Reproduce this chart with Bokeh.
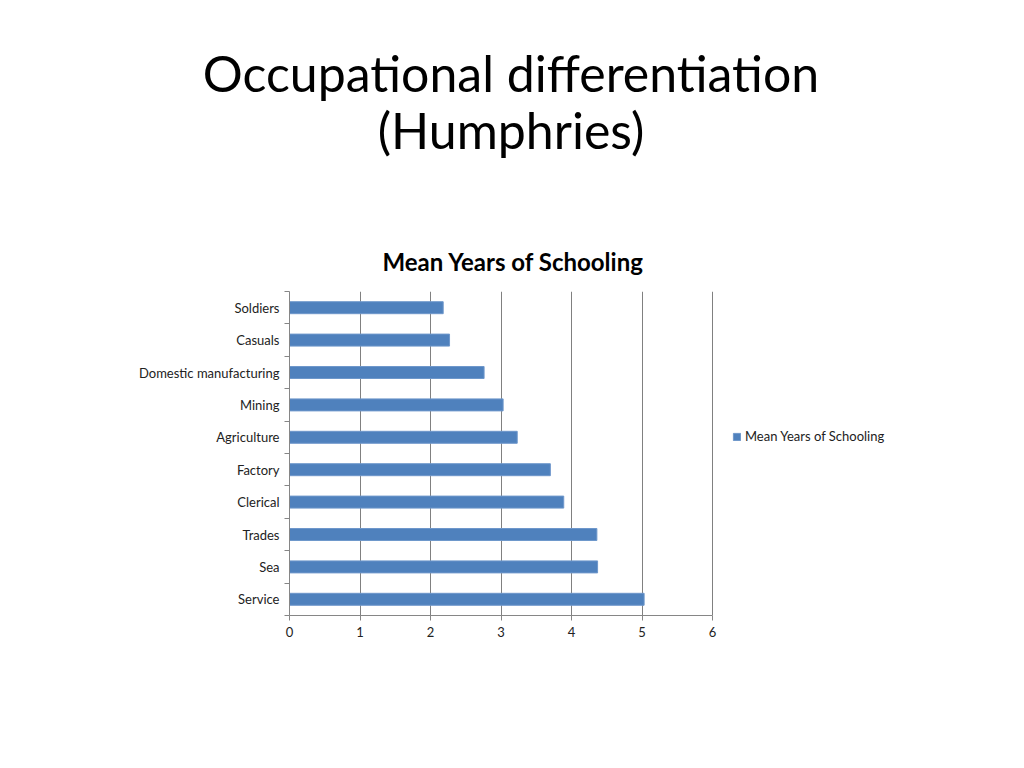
from bokeh.plotting import figure
from bokeh.models import (Range1d, LinearAxis, FixedTicker, Div,
                          Legend, LegendItem, ColumnDataSource)
from bokeh.layouts import column
from bokeh.embed import file_html
from bokeh.resources import INLINE

# ---- data ----
categories = ["Service", "Sea", "Trades", "Clerical", "Factory",
              "Agriculture", "Mining", "Domestic manufacturing", "Casuals", "Soldiers"]
mean_years = [5.03, 4.37, 4.36, 3.89, 3.70, 3.23, 3.03, 2.76, 2.27, 2.18]
x_ticks = [0, 1, 2, 3, 4, 5, 6]
main_title = ["Occupational differentiation", "(Humphries)"]
chart_title = "Mean Years of Schooling"
series_name = "Mean Years of Schooling"

FONT = "Lato"
BAR = "#4F81BD"
GRID = "#808080"
AXIS = "#868686"

n = len(categories)
centers = [i + 0.5 for i in range(n)]
bounds = list(range(n + 1))
src = ColumnDataSource(dict(cat=categories, y=centers, val=mean_years))

head = Div(text="<br>".join(main_title), width=1008, height=200, margin=0,
           styles={"font-family": FONT, "font-size": "50px", "line-height": "57px",
                   "text-align": "center", "color": "black", "width": "1008px",
                   "padding-top": "45px", "padding-left": "14px",
                   "box-sizing": "border-box"})

# frame extends past the axis end (6) so the legend can sit inside it
X_END = 10
p = figure(width=1008, height=555, y_range=Range1d(0, n), x_range=Range1d(0, X_END),
           output_backend="svg", toolbar_location=None,
           x_axis_location=None, y_axis_location=None,
           frame_width=705, frame_height=324,
           min_border_left=289, min_border_right=14,
           min_border_top=91, min_border_bottom=140, margin=0)
p.outline_line_color = None
p.background_fill_color = "white"
p.border_fill_color = "white"

p.title.text = chart_title
p.title.align = "left"
p.title.offset = 93
p.title.text_font = FONT
p.title.text_font_size = "24px"
p.title.text_font_style = "bold"
p.title.text_color = "black"
p.title.standoff = 32

r = p.hbar(y="y", right="val", left=0, height=0.37, source=src,
           fill_color=BAR, line_color="#6E97CB", line_width=1)

# grid
p.ygrid.visible = False
p.xgrid.ticker = FixedTicker(ticks=x_ticks[1:])
p.xgrid.grid_line_color = GRID
p.xgrid.grid_line_width = 1

# x axis
xaxis = LinearAxis(ticker=FixedTicker(ticks=x_ticks), bounds=(x_ticks[0], x_ticks[-1]))
xaxis.axis_line_color = AXIS
xaxis.major_tick_line_color = AXIS
xaxis.major_tick_out = 5
xaxis.major_tick_in = 0
xaxis.minor_tick_line_color = None
xaxis.major_label_text_font = FONT
xaxis.major_label_text_font_size = "13px"
xaxis.major_label_text_color = "#222222"
xaxis.major_label_standoff = 6
p.add_layout(xaxis, "below")

# y axis: labels at category centres, ticks at category boundaries
yaxis = LinearAxis(ticker=FixedTicker(ticks=centers, minor_ticks=bounds))
yaxis.major_label_overrides = {c: name for c, name in zip(centers, categories)}
yaxis.axis_line_color = AXIS
yaxis.major_tick_line_color = None
yaxis.major_tick_out = 0
yaxis.major_tick_in = 0
yaxis.minor_tick_line_color = AXIS
yaxis.minor_tick_out = 5
yaxis.minor_tick_in = 0
yaxis.major_label_standoff = 5
yaxis.major_label_text_font = FONT
yaxis.major_label_text_font_size = "13px"
yaxis.major_label_text_color = "#222222"
p.add_layout(yaxis, "left")

# legend (placed to the right of the axis area)
legend = Legend(items=[LegendItem(label=series_name, renderers=[r])],
                location=(443, 171), orientation="vertical")
legend.border_line_color = None
legend.background_fill_alpha = 0
legend.glyph_width = 9
legend.glyph_height = 9
legend.label_height = 12
legend.label_standoff = 4
legend.padding = 4
legend.margin = 0
legend.spacing = 0
legend.label_text_font = FONT
legend.label_text_font_size = "13px"
legend.label_text_color = "#222222"
p.add_layout(legend, "center")

layout = column(head, p, spacing=0)
open("out.html", "w").write(file_html(layout, INLINE))
